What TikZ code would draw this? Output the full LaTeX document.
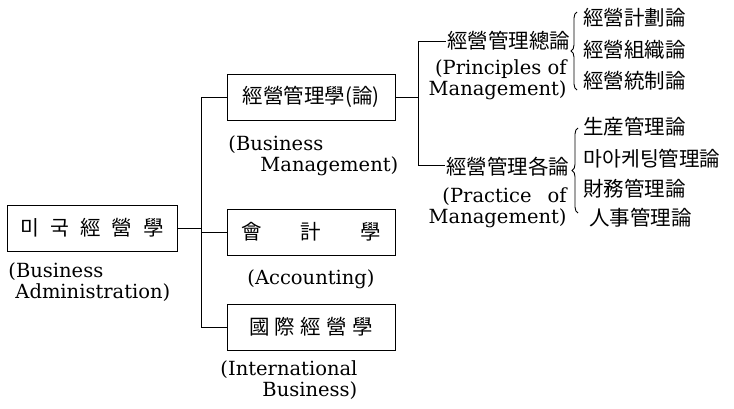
\documentclass[tikz,border=0pt]{standalone}
\usepackage{fontspec}
\newfontfamily\kr{Noto Sans CJK KR}
\newfontfamily\en{DejaVu Serif}
\usetikzlibrary{positioning,decorations.pathreplacing}
\tikzset{
  box/.style={draw, line width=1pt, minimum height=46, inner sep=0pt, font=\kr\fontsize{20.5}{24}\selectfont},
  eng/.style={align=left, inner sep=0pt, font=\en\fontsize{19.5}{21}\selectfont},
  item/.style={anchor=west, inner sep=1pt, font=\kr\fontsize{20.5}{24}\selectfont},
  brc/.style={decorate, decoration={brace, amplitude=6pt}},
}
\begin{document}
\begin{tikzpicture}[x=1pt,y=-1pt,line width=0.9pt]
\useasboundingbox (0,0) rectangle (734,408);
% left column
\node [box, minimum width=170] (root) at (92,228) {\makebox[144pt]{미\hfill 국\hfill 經\hfill 營\hfill 學}};
\node [eng, anchor=north west] (rootlbl) at (8,262) {(Business\\\hspace{7pt}Administration)};
% middle column
\node [box, minimum width=168] (bm) at (311,97) {經營管理學(論)};
\node [eng, anchor=north west] (bmlbl) at (228,135) {(Business\\\hspace{32pt}Management)};
\node [box, minimum width=168] (acc) at (311,232) {\makebox[140pt]{會\hfill 計\hfill 學}};
\node [eng] (acclbl) at (311,279) {(Accounting)};
\node [box, minimum width=168] (intl) at (311,327) {\makebox[124pt]{國\hfill 際\hfill 經\hfill 營\hfill 學}};
\node [eng, anchor=north west] (intllbl) at (220,360) {(International\\\hspace{42pt}Business)};
\coordinate (t0) at (201,97);
\coordinate (t1) at (201,327);
\draw (t0) -- (t1);
\draw (root.east) -- (root.east -| t0);
\draw (t0) -- (bm.west);
\draw (acc.west -| t0) -- (acc.west);
\draw (t1) -- (intl.west);
% right column
\node [item] (gen) at (446,41) {經營管理總論};
\node [item] (each) at (445,167) {經營管理各論};
\node [eng, align=right, anchor=north east] (genlbl) at (567,59) {(Principles of\\Management)};
\node [eng, align=right, anchor=north east] (eachlbl) at (567,187) {(Practice\hspace{16pt}of\\Management)};
\coordinate (s0) at (418,41);
\coordinate (s1) at (418,165);
\draw (s0) -- (s1);
\draw (bm.east) -- (bm.east -| s0);
\draw (s0) -- (gen.west);
\draw (s1) -- (s1 -| each.west);
\draw [brc] (577,90) -- (577,12);
\draw [brc] (578,213) -- (578,128);
\node [item] (p1) at (582,18) {經營計劃論};
\node [item] (p2) at (582,50) {經營組織論};
\node [item] (p3) at (582,81) {經營統制論};
\node [item] (q1) at (582,127) {生産管理論};
\node [item] (q2) at (582,159) {마아케팅管理論};
\node [item] (q3) at (582,189) {財務管理論};
\node [item] (q4) at (588,218) {人事管理論};
\end{tikzpicture}
\end{document}
